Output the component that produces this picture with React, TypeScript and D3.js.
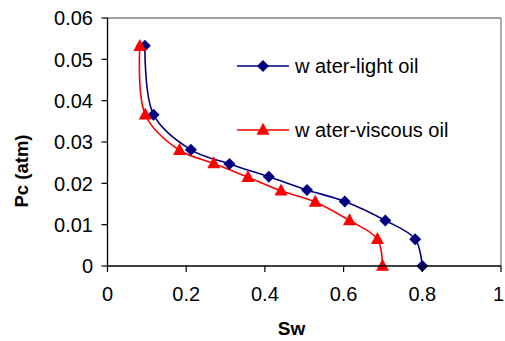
import React from "react";
import * as d3 from "d3";

const lightSw = [0.095, 0.117, 0.212, 0.31, 0.41, 0.507, 0.603, 0.706, 0.782, 0.8];
const lightPc = [0.0533, 0.0366, 0.0281, 0.0247, 0.0216, 0.0184, 0.0156, 0.011, 0.0065, 0];
const viscSw = [0.082, 0.096, 0.183, 0.27, 0.357, 0.441, 0.528, 0.615, 0.686, 0.699];
const viscPc = [0.0532, 0.0366, 0.028, 0.0248, 0.0215, 0.0182, 0.0155, 0.011, 0.0065, 0];
const xTicks = [0, 0.2, 0.4, 0.6, 0.8, 1];
const yTicks = [0, 0.01, 0.02, 0.03, 0.04, 0.05, 0.06];
const seriesNames = ["w ater-light oil", "w ater-viscous oil"];

const W = 505, H = 341;
const L = 107.5, R = 501, T = 18, B = 266;
const font = "'Liberation Sans', Arial, sans-serif";

export default function App() {
  const x = d3.scaleLinear().domain([0, 1]).range([L, R]);
  const y = d3.scaleLinear().domain([0, 0.06]).range([B, T]);
  const line = d3
    .line<[number, number]>()
    .x((d) => x(d[0]))
    .y((d) => y(d[1]))
    .curve(d3.curveCatmullRom.alpha(0.5));
  const light: [number, number][] = lightSw.map((v, i) => [v, lightPc[i]]);
  const visc: [number, number][] = viscSw.map((v, i) => [v, viscPc[i]]);
  const diamond = (cx: number, cy: number, r = 6) =>
    `M${cx},${cy - r}L${cx + r},${cy}L${cx},${cy + r}L${cx - r},${cy}Z`;
  const tri = (cx: number, cy: number, w = 13, h = 12) =>
    `M${cx},${cy - h * 0.6}L${cx + w / 2},${cy + h * 0.4}L${cx - w / 2},${cy + h * 0.4}Z`;
  const navy = "#000080";
  const red = "#FF0000";
  const fmt = (v: number) => (v === 0 ? "0" : String(+v.toFixed(2)));
  return (
    <svg width={W} height={H} style={{ position: "absolute", left: 0, top: 0 }} fontFamily={font}>
      <rect x={0} y={0} width={W} height={H} fill="#fff" />
      {/* frame */}
      <line x1={L} x2={R} y1={T} y2={T} stroke="#808080" strokeWidth={1.3} />
      <line x1={R} x2={R} y1={T} y2={B} stroke="#808080" strokeWidth={1.3} />
      {/* lines */}
      <path d={line(light) || ""} fill="none" stroke={navy} strokeWidth={1.6} />
      <path d={line(visc) || ""} fill="none" stroke={red} strokeWidth={1.6} />
      {light.map((d, i) => (
        <path key={"l" + i} d={diamond(x(d[0]), y(d[1]))} fill={navy} />
      ))}
      {visc.map((d, i) => (
        <path key={"v" + i} d={tri(x(d[0]), y(d[1]))} fill={red} />
      ))}
      {/* axes */}
      <line x1={L} x2={L} y1={T} y2={B} stroke="#000" strokeWidth={1.3} />
      <line x1={L} x2={R} y1={B} y2={B} stroke="#000" strokeWidth={1.3} />
      {yTicks.map((t) => (
        <g key={"y" + t}>
          <line x1={L - 6} x2={L} y1={y(t)} y2={y(t)} stroke="#000" strokeWidth={1.2} />
          <text x={93} y={y(t)} dy="0.36em" textAnchor="end" fontSize={20} fill="#000">
            {fmt(t)}
          </text>
        </g>
      ))}
      {xTicks.map((t) => (
        <g key={"x" + t}>
          <line x1={x(t)} x2={x(t)} y1={B} y2={B + 6} stroke="#000" strokeWidth={1.2} />
          <text
            x={t === 1 ? W - 1 : x(t)}
            y={301}
            textAnchor={t === 1 ? "end" : "middle"}
            fontSize={20}
            fill="#000"
          >
            {fmt(t)}
          </text>
        </g>
      ))}
      <text x={291.5} y={335} textAnchor="middle" fontSize={19} fontWeight="bold">
        Sw
      </text>
      <text
        transform={`translate(28,171) rotate(-90)`}
        textAnchor="middle"
        fontSize={18.5}
        fontWeight="bold"
      >
        Pc (atm)
      </text>
      {/* legend */}
      <line x1={237} x2={289} y1={66} y2={66} stroke={navy} strokeWidth={1.6} />
      <path d={diamond(263, 66)} fill={navy} />
      <text x={295} y={66} dy="0.36em" fontSize={20}>
        {seriesNames[0]}
      </text>
      <line x1={237} x2={289} y1={130} y2={130} stroke={red} strokeWidth={1.6} />
      <path d={tri(263, 130)} fill={red} />
      <text x={295} y={130} dy="0.36em" fontSize={20}>
        {seriesNames[1]}
      </text>
    </svg>
  );
}
